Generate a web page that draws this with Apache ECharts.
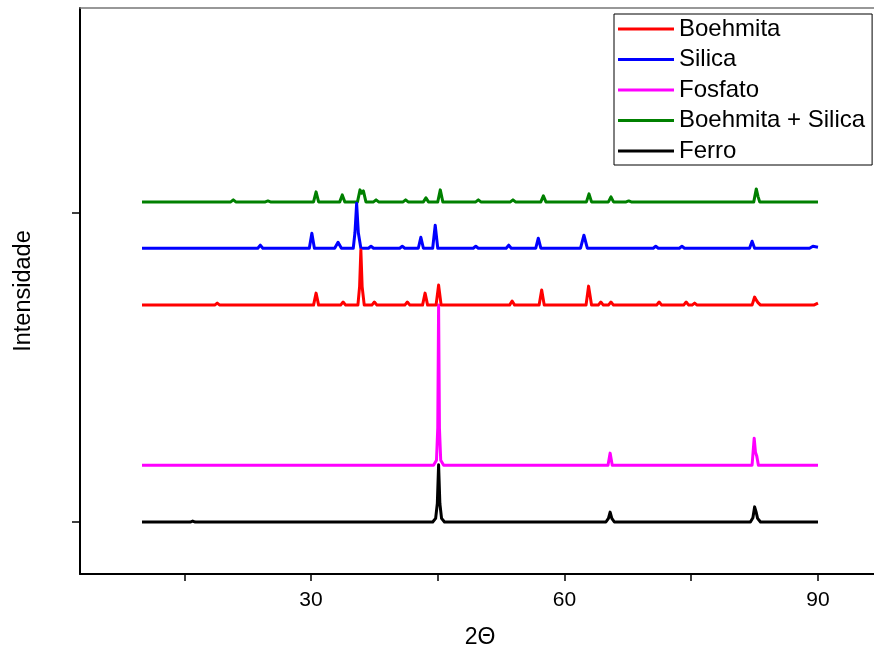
<!DOCTYPE html>
<html>
<head>
<meta charset="utf-8">
<script src="https://cdn.jsdelivr.net/npm/echarts@6/dist/echarts.min.js"></script>
<style>
  html, body { margin: 0; padding: 0; background: #fff; }
  #chart { width: 874px; height: 646px; }
</style>
</head>
<body>
<div id="chart"></div>
<script>
// XRD patterns, [2theta, intensity]
const seriesNames = ['Boehmita', 'Silica', 'Fosfato', 'Boehmita + Silica', 'Ferro'];
const seriesColors = ['#ff0000', '#0000ff', '#ff00ff', '#008000', '#000000'];
// vertical offset of each pattern (stacked display)
const seriesOffsets = [3510, 4430, 920, 5180, 0];

const boehmita = [
  [10, 0], [18.6, 0], [18.9, 32], [19.2, 0], [30.3, 0], [30.6, 194], [30.9, 0],
  [33.5, 0], [33.8, 49], [34.1, 0], [35.55, 0], [35.75, 300], [35.9, 890], [36.05, 300], [36.3, 0],
  [37.2, 0], [37.5, 49], [37.8, 0], [41.1, 0], [41.4, 49], [41.7, 0],
  [43.2, 0], [43.5, 194], [43.8, 0], [44.8, 0], [45.1, 324], [45.4, 0],
  [53.5, 0], [53.8, 65], [54.1, 0], [57.0, 0], [57.3, 243], [57.6, 0],
  [62.55, 0], [62.85, 307], [63.2, 0], [64.0, 0], [64.3, 49], [64.6, 0],
  [65.2, 0], [65.5, 49], [65.8, 0], [70.9, 0], [71.2, 49], [71.5, 0],
  [74.1, 0], [74.4, 49], [74.7, 0], [75.1, 0], [75.4, 32], [75.7, 0],
  [82.2, 0], [82.5, 130], [82.7, 80], [82.9, 40], [83.2, 0], [89.5, 0], [90, 32]
];
const silica = [
  [10, 0], [23.7, 0], [24.0, 49], [24.3, 0], [29.8, 0], [30.1, 243], [30.4, 0],
  [32.8, 0], [33.2, 97], [33.6, 0], [35.0, 0], [35.2, 250], [35.4, 728], [35.6, 250], [35.9, 0],
  [36.8, 0], [37.1, 32], [37.4, 0], [40.5, 0], [40.8, 32], [41.1, 0],
  [42.7, 0], [43.0, 178], [43.3, 0], [44.4, 0], [44.7, 372], [45.0, 0],
  [49.2, 0], [49.5, 32], [49.8, 0], [53.1, 0], [53.4, 49], [53.7, 0],
  [56.6, 0], [56.9, 162], [57.2, 0], [61.9, 0], [62.3, 210], [62.7, 0],
  [70.5, 0], [70.8, 32], [71.1, 0], [73.6, 0], [73.9, 32], [74.2, 0],
  [81.9, 0], [82.2, 113], [82.5, 0], [89.0, 0], [89.4, 32], [90, 16]
];
const fosfato = [
  [10, 0], [44.5, 0], [44.85, 80], [45.0, 600], [45.1, 2590], [45.2, 600], [45.35, 80], [45.7, 0],
  [65.15, 0], [65.4, 195], [65.65, 0],
  [82.2, 0], [82.45, 437], [82.6, 210], [82.75, 150], [82.95, 0], [90, 0]
];
const boehmitaSilica = [
  [10, 0], [20.5, 0], [20.8, 32], [21.1, 0], [24.6, 0], [24.9, 16], [25.2, 0],
  [30.3, 0], [30.6, 162], [30.9, 0], [33.4, 0], [33.7, 113], [34.0, 0],
  [35.5, 0], [35.8, 194], [36.0, 140], [36.2, 178], [36.5, 0],
  [37.4, 0], [37.7, 32], [38.0, 0], [40.9, 0], [41.2, 32], [41.5, 0],
  [43.3, 0], [43.6, 65], [43.9, 0], [45.0, 0], [45.3, 194], [45.6, 0],
  [49.5, 0], [49.8, 32], [50.1, 0], [53.6, 0], [53.9, 32], [54.2, 0],
  [57.2, 0], [57.5, 97], [57.8, 0], [62.6, 0], [62.9, 130], [63.2, 0],
  [65.2, 0], [65.5, 81], [65.8, 0], [67.3, 0], [67.6, 16], [67.9, 0],
  [82.4, 0], [82.7, 210], [82.9, 90], [83.1, 0], [90, 0]
];
const ferro = [
  [10, 0], [15.7, 0], [16.0, 16], [16.3, 0], [44.4, 0], [44.75, 60], [44.95, 300], [45.1, 925],
  [45.25, 300], [45.45, 60], [45.8, 0],
  [64.9, 0], [65.2, 60], [65.4, 160], [65.6, 60], [65.9, 0],
  [82.0, 0], [82.3, 70], [82.5, 245], [82.7, 150], [82.85, 60], [83.2, 0], [90, 0]
];
const patterns = [boehmita, silica, fosfato, boehmitaSilica, ferro];

// axis ticks
const xTickValues = [15, 30, 45, 60, 75, 90];
const xLabelValues = [30, 60, 90];
const yTickValues = [0, 5000];

const font = 'Liberation Sans, Arial, sans-serif';
const chart = echarts.init(document.getElementById('chart'), null, { renderer: 'canvas' });

const series = seriesNames.map((name, i) => ({
  name: name,
  type: 'line',
  symbol: 'none',
  color: seriesColors[i],
  lineStyle: { width: 3, color: seriesColors[i], join: 'round' },
  data: patterns[i].map(p => [p[0], p[1] + seriesOffsets[i]])
}));
// draw the lower patterns on top, like the original
series.reverse();

const option = {
  backgroundColor: '#ffffff',
  animation: false,
  textStyle: { fontFamily: font },
  grid: { left: 80, top: 8, width: 800, height: 566, containLabel: false, outerBoundsMode: 'none' },
  legend: {
    data: seriesNames,
    orient: 'vertical',
    left: 614,
    top: 14,
    icon: 'rect',
    itemWidth: 56,
    itemHeight: 3,
    itemGap: 6.5,
    padding: [3, 7, 2, 4],
    borderColor: '#000',
    borderWidth: 1,
    backgroundColor: '#fff',
    textStyle: { fontSize: 24, color: '#000', fontFamily: font }
  },
  xAxis: [
    {
      type: 'value',
      min: 2.66,
      max: 97.34,
      name: '2Θ',
      nameLocation: 'middle',
      nameGap: 52,
      nameTextStyle: { fontSize: 23, color: '#000', fontFamily: font },
      splitLine: { show: false },
      axisLine: { onZero: false, lineStyle: { color: '#000', width: 2 } },
      axisTick: { customValues: xTickValues, length: 7, lineStyle: { color: '#000', width: 1.5 } },
      axisLabel: { customValues: xLabelValues, margin: 16, fontSize: 21, color: '#000', fontFamily: font }
    },
    {
      type: 'value',
      position: 'top',
      min: 2.66,
      max: 97.34,
      splitLine: { show: false },
      axisLine: { onZero: false, lineStyle: { color: '#777', width: 1.5 } },
      axisTick: { show: false },
      axisLabel: { show: false }
    }
  ],
  yAxis: {
    type: 'value',
    min: -841,
    max: 8317,
    name: 'Intensidade',
    nameLocation: 'middle',
    nameRotate: 90,
    nameGap: 44,
    nameTextStyle: { fontSize: 23.5, color: '#000', fontFamily: font },
    splitLine: { show: false },
    axisLine: { show: true, onZero: false, lineStyle: { color: '#000', width: 2 } },
    axisTick: { show: true, customValues: yTickValues, length: 8, lineStyle: { color: '#000', width: 1.5 } },
    axisLabel: { show: false }
  },
  series: series
};

chart.setOption(option);
</script>
</body>
</html>
